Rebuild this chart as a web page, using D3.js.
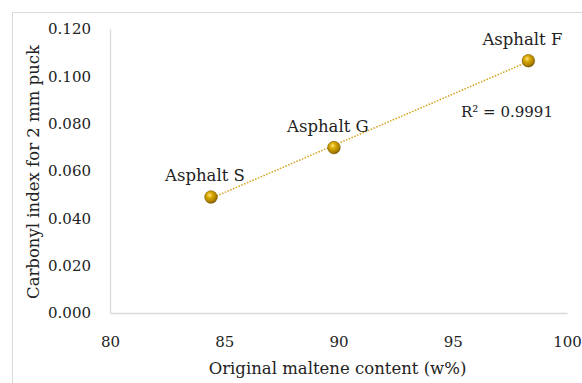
<!DOCTYPE html>
<html>
<head>
<meta charset="utf-8">
<script src="https://cdn.jsdelivr.net/npm/d3@7"></script>
<style>
  html, body { margin: 0; padding: 0; background: #fff; }
  svg { display: block; font-family: "DejaVu Serif", serif; }
</style>
</head>
<body>
<div id="chart"></div>
<script>
const asphalts = ["Asphalt S", "Asphalt G", "Asphalt F"];
const malteneContent = [84.42, 89.8, 98.31];
const carbonylIndex = [0.049, 0.0699, 0.1066];
const xTicks = [80, 85, 90, 95, 100];
const yTicks = [0, 0.02, 0.04, 0.06, 0.08, 0.1, 0.12];
const rSquaredLabel = "R² = 0.9991";

const width = 582, height = 383;
const margin = { left: 110, right: 15, top: 29, bottom: 70 };

const svg = d3.select("#chart").append("svg")
    .attr("width", width)
    .attr("height", height);

// outer chart frame (cropped on right/bottom)
svg.append("rect")
    .attr("x", 12.5).attr("y", 12.5)
    .attr("width", 640).attr("height", 440)
    .attr("fill", "none")
    .attr("stroke", "#d9d9d9");

const xScale = d3.scaleLinear()
    .domain([80, 100])
    .range([margin.left, width - margin.right]);
const yScale = d3.scaleLinear()
    .domain([0, 0.12])
    .range([height - margin.bottom, margin.top]);

const defs = svg.append("defs");
const grad = defs.append("radialGradient")
    .attr("id", "ball")
    .attr("cx", "40%").attr("cy", "35%").attr("r", "65%");
grad.append("stop").attr("offset", "0%").attr("stop-color", "#ffe680");
grad.append("stop").attr("offset", "35%").attr("stop-color", "#d9a800");
grad.append("stop").attr("offset", "85%").attr("stop-color", "#a67c00");
grad.append("stop").attr("offset", "100%").attr("stop-color", "#7a5a00");

// axes
const xAxis = d3.axisBottom(xScale).tickValues(xTicks).tickSize(0).tickPadding(23)
    .tickFormat(d3.format("d"));
const yAxis = d3.axisLeft(yScale).tickValues(yTicks).tickSize(0).tickPadding(19)
    .tickFormat(d3.format(".3f"));

const xAxisGroup = svg.append("g")
    .attr("transform", `translate(0, ${yScale(0)})`)
    .call(xAxis);
const yAxisGroup = svg.append("g")
    .attr("transform", `translate(${xScale(80)}, 0)`)
    .call(yAxis);

[xAxisGroup, yAxisGroup].forEach(g => {
    g.select(".domain").attr("stroke", "#d9d9d9").attr("stroke-width", 1.3);
    g.selectAll("text")
        .attr("font-family", "DejaVu Serif, serif")
        .attr("font-size", 15)
        .attr("fill", "#222");
});

// axis titles
svg.append("text")
    .attr("x", (xScale(80) + xScale(100)) / 2 - 1)
    .attr("y", 374)
    .attr("text-anchor", "middle")
    .attr("font-size", 16.5)
    .attr("fill", "#222")
    .text("Original maltene content (w%)");

svg.append("text")
    .attr("transform", `translate(39, ${(yScale(0) + yScale(0.12)) / 2 + 1}) rotate(-90)`)
    .attr("text-anchor", "middle")
    .attr("font-size", 16.5)
    .attr("fill", "#222")
    .text("Carbonyl index for 2 mm puck");

// linear trendline from the data
const mx = d3.mean(malteneContent), my = d3.mean(carbonylIndex);
const slope = d3.sum(malteneContent, (x, i) => (x - mx) * (carbonylIndex[i] - my)) /
    d3.sum(malteneContent, x => (x - mx) * (x - mx));
const intercept = my - slope * mx;
const xExtent = d3.extent(malteneContent);

svg.append("line")
    .attr("x1", xScale(xExtent[0])).attr("y1", yScale(slope * xExtent[0] + intercept))
    .attr("x2", xScale(xExtent[1])).attr("y2", yScale(slope * xExtent[1] + intercept))
    .attr("stroke", "#d4a017")
    .attr("stroke-width", 1.5)
    .attr("stroke-dasharray", "1.5 1.5");

const points = asphalts.map((name, i) => ({ name, x: malteneContent[i], y: carbonylIndex[i] }));

svg.selectAll("circle.pt")
    .data(points)
    .join("circle")
    .attr("class", "pt")
    .attr("cx", d => xScale(d.x))
    .attr("cy", d => yScale(d.y))
    .attr("r", 6.3)
    .attr("fill", "url(#ball)")
    .attr("stroke", "#7a5a00")
    .attr("stroke-width", 0.6);

svg.selectAll("text.lbl")
    .data(points)
    .join("text")
    .attr("class", "lbl")
    .attr("x", d => xScale(d.x) - 6)
    .attr("y", d => yScale(d.y) - 16)
    .attr("text-anchor", "middle")
    .attr("font-size", 16.5)
    .attr("fill", "#222")
    .text(d => d.name);

svg.append("text")
    .attr("x", 507)
    .attr("y", 117)
    .attr("text-anchor", "middle")
    .attr("font-size", 15)
    .attr("fill", "#222")
    .text(rSquaredLabel);
</script>
</body>
</html>
